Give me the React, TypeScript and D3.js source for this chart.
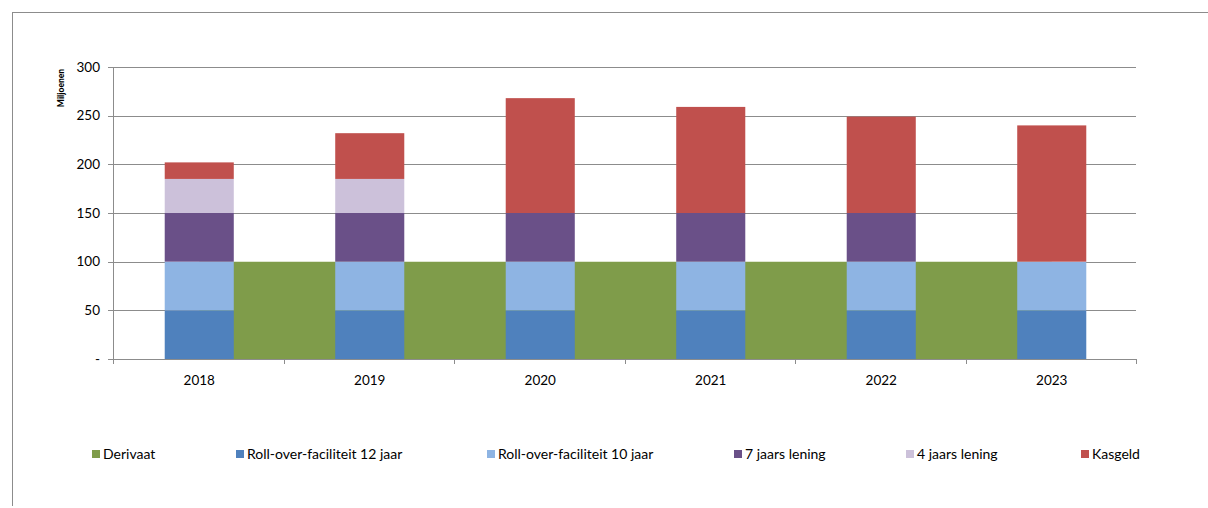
import React from "react";
import * as d3 from "d3";

const years = ["2018", "2019", "2020", "2021", "2022", "2023"];
const derivaat = [100, 100, 100, 100, 100, 100];
const roll12 = [50, 50, 50, 50, 50, 50];
const roll10 = [50, 50, 50, 50, 50, 50];
const lening7 = [50, 50, 50, 50, 50, 0];
const lening4 = [35, 35, 0, 0, 0, 0];
const kasgeld = [17, 47, 118, 109, 99, 140];
const yTicks = [0, 50, 100, 150, 200, 250, 300];

const barSeries = [
  { name: "Roll-over-faciliteit 12 jaar", values: roll12, color: "#4f81bd" },
  { name: "Roll-over-faciliteit 10 jaar", values: roll10, color: "#8eb4e3" },
  { name: "7 jaars lening", values: lening7, color: "#6a5088" },
  { name: "4 jaars lening", values: lening4, color: "#ccc1da" },
  { name: "Kasgeld", values: kasgeld, color: "#c0504d" },
];
const derivColor = "#7f9c4a";

const legendItems = [
  { name: "Derivaat", color: derivColor, x: 92 },
  { name: "Roll-over-faciliteit 12 jaar", color: "#4f81bd", x: 236 },
  { name: "Roll-over-faciliteit 10 jaar", color: "#8eb4e3", x: 487 },
  { name: "7 jaars lening", color: "#6a5088", x: 734 },
  { name: "4 jaars lening", color: "#ccc1da", x: 906 },
  { name: "Kasgeld", color: "#c0504d", x: 1081 },
];

export default function App() {
  const W = 1208, H = 508;
  const left = 113, right = 1136, top = 67, bottom = 359;
  const x = d3.scaleBand().domain(years).range([left + 1, right + 1]).paddingInner(0.595).paddingOuter(0.2975);
  const xc = (y: string) => (x(y) as number) + x.bandwidth() / 2;
  const y = d3.scaleLinear().domain([0, 300]).range([bottom, top]);
  const step = (right - left) / years.length;
  const font = "Lato, 'Open Sans', sans-serif";

  const area = d3
    .area<number>()
    .x((_, i) => xc(years[i]))
    .y0(y(0))
    .y1((d) => y(d));

  const stacks: { x: number; y0: number; y1: number; color: string }[] = [];
  years.forEach((yr, i) => {
    let acc = 0;
    barSeries.forEach((s) => {
      const v = s.values[i];
      if (v > 0) {
        stacks.push({ x: x(yr) as number, y0: acc, y1: acc + v, color: s.color });
      }
      acc += v;
    });
  });

  return (
    <svg width={W} height={H} style={{ position: "absolute", left: 0, top: 0, background: "#fff" }}>
      <line x1={12} y1={12.5} x2={W} y2={12.5} stroke="#8c8c8c" />
      <line x1={12.5} y1={12} x2={12.5} y2={506} stroke="#8c8c8c" />
      {yTicks.map((t) => (
        <g key={t}>
          <line x1={left - 5} x2={right} y1={Math.round(y(t)) + 0.5} y2={Math.round(y(t)) + 0.5} stroke="#8c8c8c" />
          <text x={100} y={y(t) + 4.5} textAnchor="end" fontSize={13.5} fontFamily={font} fill="#000">
            {t === 0 ? "-" : t}
          </text>
        </g>
      ))}
      <path d={area(derivaat) || ""} fill={derivColor} />
      {stacks.map((s, i) => (
        <rect key={i} x={s.x} y={y(s.y1)} width={x.bandwidth()} height={y(s.y0) - y(s.y1)} fill={s.color} />
      ))}
      <line x1={left + 0.5} x2={left + 0.5} y1={top} y2={bottom} stroke="#8c8c8c" />
      <line x1={left} x2={right} y1={bottom + 0.5} y2={bottom + 0.5} stroke="#8c8c8c" />
      {d3.range(years.length + 1).map((i) => (
        <line key={i} x1={Math.round(left + i * step) + 0.5} x2={Math.round(left + i * step) + 0.5} y1={bottom} y2={bottom + 5} stroke="#8c8c8c" />
      ))}
      {years.map((yr) => (
        <text key={yr} x={xc(yr)} y={385} textAnchor="middle" fontSize={13.5} fontFamily={font} fill="#000">
          {yr}
        </text>
      ))}
      <text transform="translate(64,88) rotate(-90)" textAnchor="middle" fontSize={8.5} fontWeight="900" fontFamily={font} fill="#000">
        Miljoenen
      </text>
      {legendItems.map((l) => (
        <g key={l.name}>
          <rect x={l.x} y={450} width={8} height={8} fill={l.color} />
          <text x={l.x + 11} y={458.5} fontSize={14} fontFamily={font} fill="#000">
            {l.name}
          </text>
        </g>
      ))}
    </svg>
  );
}
